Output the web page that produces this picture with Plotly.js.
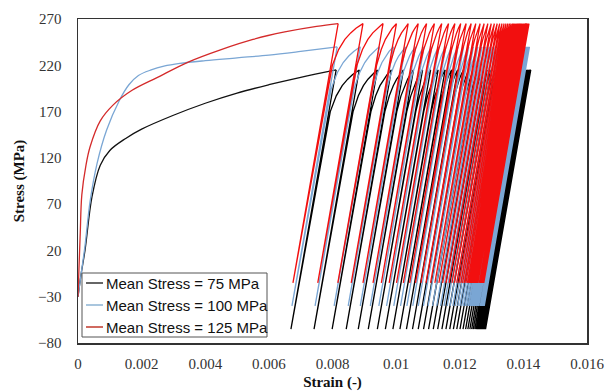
<!DOCTYPE html>
<html>
<head>
<meta charset="utf-8">
<script src="https://cdn.plot.ly/plotly-3.0.1.min.js"></script>
<style>html,body{margin:0;padding:0;background:#fff;}#chart{width:607px;height:392px;}</style>
</head>
<body>
<div id="chart"></div>
<script>
// ---- series names / levels ----
const seriesNames = ["Mean Stress = 75 MPa", "Mean Stress = 100 MPa", "Mean Stress = 125 MPa"];
const maxStress = [215, 240, 265];
const minStress = [-65, -40, -15];

// ---- monotonic (first loading) curves ----
const monoStrain75 = [0, 0.0001, 0.00022, 0.00044, 0.0007, 0.001, 0.0015, 0.002, 0.003, 0.004, 0.005, 0.006, 0.007];
const monoStress75 = [-30, -5, 20, 78, 112, 128, 141, 151, 166, 179, 190, 199, 207];
const monoStrain100 = [0, 0.0001, 0.00022, 0.00038, 0.0006, 0.0009, 0.0013, 0.0016, 0.0019, 0.0023, 0.0027, 0.0032, 0.004, 0.005, 0.006, 0.007];
const monoStress100 = [-30, -5, 25, 73, 114, 150, 182, 199, 209, 215, 219, 222, 225, 228, 231, 235];
const monoStrain125 = [0, 0.00003, 0.00007, 0.00012, 0.00025, 0.00038, 0.0007, 0.0011, 0.0017, 0.0025, 0.0035, 0.0045, 0.0055, 0.0065, 0.0075];
const monoStress125 = [-30, 0, 38, 80, 112, 132, 160, 177, 193, 207, 224, 237, 248, 256, 262];

// ---- strain at the peak of each cycle (ratcheting) ----
const peakStrain75 = [0.008115, 0.008841, 0.009410, 0.009852, 0.010231, 0.010546, 0.010831, 0.011083, 0.011320, 0.011541,
  0.011746, 0.011936, 0.012116, 0.012283, 0.012441, 0.012589, 0.012728, 0.012861, 0.012987, 0.013107,
  0.013221, 0.013328, 0.013429, 0.013524, 0.013606, 0.013676, 0.013739, 0.013796, 0.013846, 0.013894,
  0.013938, 0.013979, 0.014017, 0.014052, 0.014083, 0.014112, 0.014137, 0.014159, 0.014178, 0.014194,
  0.014206, 0.014216, 0.014225, 0.014232];
const peakStrain100 = [0.008147, 0.008873, 0.009473, 0.009915, 0.010294, 0.010610, 0.010878, 0.011121, 0.011348, 0.011560,
  0.011759, 0.011945, 0.012119, 0.012280, 0.012428, 0.012567, 0.012697, 0.012817, 0.012927, 0.013028,
  0.013120, 0.013205, 0.013284, 0.013357, 0.013423, 0.013483, 0.013540, 0.013594, 0.013644, 0.013692,
  0.013736, 0.013776, 0.013814, 0.013849, 0.013881, 0.013912, 0.013941, 0.013969, 0.013995, 0.014020,
  0.014042, 0.014064, 0.014083, 0.014102, 0.014118, 0.014130, 0.014146, 0.014159, 0.014171, 0.014181, 0.014191];
const peakStrain125 = [0.008178, 0.008958, 0.009589, 0.010010, 0.010379, 0.010695, 0.010957, 0.011203, 0.011434, 0.011648,
  0.011847, 0.012030, 0.012201, 0.012359, 0.012504, 0.012640, 0.012766, 0.012883, 0.012990, 0.013088,
  0.013177, 0.013256, 0.013328, 0.013394, 0.013454, 0.013511, 0.013565, 0.013615, 0.013663, 0.013707,
  0.013748, 0.013786, 0.013821, 0.013852, 0.013884, 0.013912, 0.013941, 0.013966, 0.013991, 0.014013,
  0.014036, 0.014055, 0.014074, 0.014090, 0.014105, 0.014118, 0.014130, 0.014140, 0.014149, 0.014159,
  0.014168, 0.014177];

// elastic modulus (MPa) read from the unloading slope
const modulus = 197000;
// reloading knee shape: stress below peak and share of the cycle's ratchet increment
const reloadDrop = [45, 28, 17, 10, 5, 2, 0];
const reloadShare = [0.06, 0.2, 0.38, 0.57, 0.75, 0.9, 1];

// ---- tick labels ----
const xTicks = [0, 0.002, 0.004, 0.006, 0.008, 0.01, 0.012, 0.014, 0.016];
const xTickText = ["0", "0.002", "0.004", "0.006", "0.008", "0.01", "0.012", "0.014", "0.016"];
const yTicks = [-80, -30, 20, 70, 120, 170, 220, 270];

const colors = ["#000000", "#7aa6d4", "#f20f0f"];
const monoColors = ["#111111", "#7aa6d4", "#d42a2a"];
const legendColors = ["#333333", "#8db3d3", "#c0392b"];

function buildCycles(peaks, smax, smin) {
  const x = [peaks[0]], y = [smax];
  const span = (smax - smin) / modulus;
  for (let n = 0; n < peaks.length; n++) {
    if (n > 0) {
      const eb = peaks[n - 1] - span;
      const d = peaks[n] - peaks[n - 1];
      for (let k = 0; k < reloadDrop.length; k++) {
        const s = smax - reloadDrop[k];
        x.push(eb + (s - smin) / modulus + reloadShare[k] * d);
        y.push(s);
      }
    }
    x.push(peaks[n] - span); y.push(smin);
  }
  return {x, y};
}

const monoE = [monoStrain75, monoStrain100, monoStrain125];
const monoS = [monoStress75, monoStress100, monoStress125];
const peaks = [peakStrain75, peakStrain100, peakStrain125];

const traces = [];
for (let i = 0; i < 3; i++) {
  traces.push({x: monoE[i].concat([peaks[i][0]]), y: monoS[i].concat([maxStress[i]]), type: 'scatter', mode: 'lines',
    name: seriesNames[i], line: {color: monoColors[i], width: 1.3, shape: 'spline', smoothing: 1},
    showlegend: false, hoverinfo: 'skip'});
}
for (let i = 0; i < 3; i++) {
  const c = buildCycles(peaks[i], maxStress[i], minStress[i]);
  traces.push({x: c.x, y: c.y, type: 'scatter', mode: 'lines', name: seriesNames[i],
    line: {color: colors[i], width: 1.3}, showlegend: false, hoverinfo: 'skip'});
}

// custom legend (short sample lines as in the original)
const L = {l: 78, r: 20, t: 19, b: 49};
const pw = 607 - L.l - L.r, ph = 392 - L.t - L.b;
const px = v => (v - L.l) / pw;
const py = v => (392 - L.b - v) / ph;
const shapes = [{type: 'rect', xref: 'paper', yref: 'paper', x0: px(82), x1: px(267), y0: py(337), y1: py(273),
  line: {color: '#555', width: 1}, fillcolor: '#fff', layer: 'above'}];
const annotations = [];
const rows = [283, 305, 327];
for (let i = 0; i < 3; i++) {
  shapes.push({type: 'line', xref: 'paper', yref: 'paper', x0: px(86), x1: px(103), y0: py(rows[i]), y1: py(rows[i]),
    line: {color: legendColors[i], width: 1.5}, layer: 'above'});
  annotations.push({xref: 'paper', yref: 'paper', x: px(104), y: py(rows[i]), xanchor: 'left', yanchor: 'middle',
    text: seriesNames[i], showarrow: false, font: {family: 'Liberation Sans', size: 15, color: '#111'}});
}

const serif = 'Liberation Serif';
const layout = {
  width: 607, height: 392,
  margin: L,
  paper_bgcolor: '#fff', plot_bgcolor: '#fff',
  showlegend: false,
  xaxis: {range: [0, 0.016], tickvals: xTicks, ticktext: xTickText, showgrid: false, zeroline: false,
    showline: true, mirror: true, linecolor: '#333', linewidth: 1.5, ticks: '', ticklabelstandoff: 6,
    tickfont: {family: serif, size: 15, color: '#333'},
    title: {text: '<b>Strain (-)</b>', font: {family: serif, size: 15, color: '#111'}, standoff: 6}},
  yaxis: {range: [-80, 270], tickvals: yTicks, showgrid: false, zeroline: false,
    showline: true, mirror: true, linecolor: '#333', linewidth: 1.5, ticks: '', ticklabelstandoff: 12,
    tickfont: {family: serif, size: 15, color: '#333'},
    title: {text: '<b>Stress (MPa)</b>', font: {family: serif, size: 15, color: '#111'}, standoff: 10}},
  shapes: shapes, annotations: annotations
};

Plotly.newPlot('chart', traces, layout, {staticPlot: true, displayModeBar: false});
</script>
</body>
</html>
